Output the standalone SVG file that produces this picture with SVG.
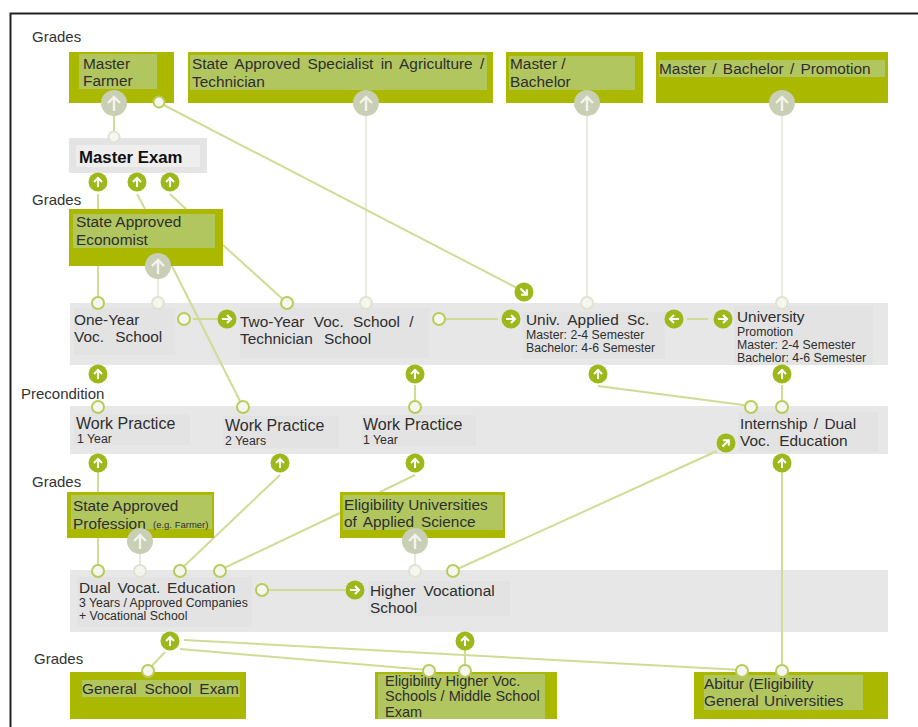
<svg xmlns="http://www.w3.org/2000/svg" width="918" height="727" viewBox="0 0 918 727">
<style>
text{font-family:"Liberation Sans",Arial,sans-serif;fill:#2e2e2e;font-size:15.4px}
.s{font-size:12.3px}
.lab{font-size:15px;fill:#333}
.g{fill:#aab800}
.li{fill:#b2c65f}
.row{fill:#e7e7e7}
.in{fill:#e3e3e3}
.c line{stroke:#cfdc96;stroke-width:2;fill:none}
.c line.p{stroke:#e8ebdc}
.o{fill:#f6f6f0;stroke:#b9cc5a;stroke-width:2}
.og{fill:#f6f6f0;stroke:#dfe3d0;stroke-width:2}
</style>
<defs>
<g id="a"><circle r="9.5" fill="#9db81a"/><path d="M0,5V-4M-4,0L0,-4L4,0" fill="none" stroke="#fff" stroke-width="2"/></g>
<g id="b"><circle r="13" fill="#c9cfb4"/><path d="M0,8V-6M-6,0L0,-6L6,0" fill="none" stroke="#f4f4ee" stroke-width="2.4"/></g>
</defs>
<rect width="918" height="727" fill="#fff"/>
<path d="M10.5,727V13.5H918" fill="none" stroke="#222" stroke-width="2"/>
<g id="bands">
<rect class="row" x="70" y="303" width="818" height="62"/>
<rect class="row" x="70" y="406" width="818" height="48"/>
<rect class="row" x="70" y="570" width="818" height="62"/>
<rect class="in" x="74" y="308" width="101" height="47"/>
<rect class="in" x="240" y="308" width="189" height="50"/>
<rect class="in" x="523" y="312" width="142" height="47"/>
<rect class="in" x="734" y="306" width="139" height="59"/>
<rect class="in" x="74" y="414" width="116" height="31"/>
<rect class="in" x="223" y="416" width="116" height="32"/>
<rect class="in" x="362" y="415" width="114" height="31"/>
<rect class="in" x="738" y="412" width="140" height="40"/>
<rect class="in" x="77" y="577" width="175" height="50"/>
<rect class="in" x="368" y="581" width="142" height="35"/>
</g>
<g id="connectors" class="c">
<line x1="114" y1="115" x2="114" y2="137"/>
<line x1="366" y1="115" x2="366" y2="303" class="p"/>
<line x1="587" y1="115" x2="587" y2="303" class="p"/>
<line x1="782" y1="115" x2="782" y2="303" class="p"/>
<line x1="158" y1="102" x2="517" y2="288"/>
<line x1="98" y1="194" x2="98" y2="303"/>
<line x1="137" y1="194" x2="145" y2="209"/>
<line x1="170" y1="194" x2="186" y2="209"/>
<line x1="158" y1="278" x2="158" y2="303" class="p"/>
<line x1="172" y1="266" x2="243" y2="407"/>
<line x1="223" y1="245" x2="287" y2="303"/>
<line x1="193" y1="319" x2="220" y2="319"/>
<line x1="445" y1="319" x2="498" y2="319"/>
<line x1="687" y1="319" x2="708" y2="319"/>
<line x1="415" y1="385" x2="415" y2="407"/>
<line x1="598" y1="386" x2="751" y2="406"/>
<line x1="782" y1="385" x2="782" y2="407"/>
<line x1="98" y1="470" x2="98" y2="570"/>
<line x1="280" y1="475" x2="180" y2="570"/>
<line x1="415" y1="475" x2="380" y2="492"/>
<line x1="340" y1="513" x2="220" y2="570"/>
<line x1="717" y1="451" x2="453" y2="571"/>
<line x1="782" y1="470" x2="782" y2="672"/>
<line x1="140" y1="553" x2="140" y2="570" class="p"/>
<line x1="415" y1="553" x2="415" y2="570" class="p"/>
<line x1="268" y1="590" x2="345" y2="590"/>
<line x1="184" y1="640" x2="742" y2="670"/>
<line x1="180" y1="649" x2="428" y2="670"/>
<line x1="165" y1="652" x2="148" y2="670"/>
<line x1="465" y1="650" x2="465" y2="672"/>
</g>
<g id="master-farmer"><rect class="g" x="69" y="52" width="105" height="51"/><rect class="li" x="79" y="54" width="78" height="35"/><text x="83" y="69">Master</text><text x="83" y="86">Farmer</text></g>
<g id="specialist"><rect class="g" x="188" y="52" width="305" height="51"/><rect class="li" x="190" y="55" width="297" height="35"/><text x="192" y="69" style="word-spacing:3px">State Approved Specialist in Agriculture /</text><text x="192" y="87">Technician</text></g>
<g id="master-bachelor"><rect class="g" x="506" y="52" width="137" height="51"/><rect class="li" x="509" y="56" width="126" height="34"/><text x="510" y="69">Master /</text><text x="510" y="87">Bachelor</text></g>
<g id="master-bachelor-promotion"><rect class="g" x="656" y="52" width="232" height="51"/><rect class="li" x="659" y="60" width="226" height="17"/><text x="659" y="74" style="word-spacing:2px">Master / Bachelor / Promotion</text></g>
<g id="master-exam"><rect x="69" y="138" width="138" height="35" fill="#e4e4e4"/><rect x="76" y="145" width="124" height="22" fill="#eee"/><text x="79" y="163" style="font-weight:bold;fill:#111;font-size:16.8px">Master Exam</text></g>
<g id="economist"><rect class="g" x="69" y="209" width="154" height="57"/><rect class="li" x="73" y="214" width="142" height="34"/><text x="76" y="227">State Approved</text><text x="76" y="245">Economist</text></g>
<g id="one-year"><text x="74" y="325">One-Year</text><text x="74" y="342" style="word-spacing:7px">Voc. School</text></g>
<g id="two-year"><text x="240" y="327" style="word-spacing:5px">Two-Year Voc. School /</text><text x="240" y="344" style="word-spacing:7px">Technician School</text></g>
<g id="univ-applied"><text x="526" y="325" style="word-spacing:4px">Univ. Applied Sc.</text><text class="s" x="526" y="339">Master: 2-4 Semester</text><text class="s" x="526" y="352">Bachelor: 4-6 Semester</text></g>
<g id="university"><text x="737" y="322">University</text><text class="s" x="737" y="336">Promotion</text><text class="s" x="737" y="349">Master: 2-4 Semester</text><text class="s" x="737" y="362">Bachelor: 4-6 Semester</text></g>
<g id="work-1"><text x="76" y="429" style="font-size:16px">Work Practice</text><text class="s" x="77" y="443">1 Year</text></g>
<g id="work-2"><text x="225" y="431" style="font-size:16px">Work Practice</text><text class="s" x="225" y="445">2 Years</text></g>
<g id="work-3"><text x="363" y="430" style="font-size:16px">Work Practice</text><text class="s" x="363" y="444">1 Year</text></g>
<g id="internship"><text x="740" y="429" style="word-spacing:2px">Internship / Dual</text><text x="740" y="446" style="word-spacing:5px">Voc. Education</text></g>
<g id="profession"><rect class="g" x="67" y="492" width="147" height="46"/><rect class="li" x="71" y="495" width="141" height="34"/><text x="73" y="511">State Approved</text><text x="73" y="529">Profession</text><text x="153" y="528" style="font-size:9.5px">(e.g. Farmer)</text></g>
<g id="eligibility-uas"><rect class="g" x="340" y="492" width="165" height="46"/><rect class="li" x="343" y="495" width="160" height="35"/><text x="344" y="510">Eligibility Universities</text><text x="344" y="527" style="word-spacing:2.5px">of Applied Science</text></g>
<g id="dual"><text x="79" y="593" style="word-spacing:2.5px">Dual Vocat. Education</text><text class="s" x="79" y="607">3 Years / Approved Companies</text><text class="s" x="79" y="620">+ Vocational School</text></g>
<g id="higher"><text x="370" y="596" style="word-spacing:4px">Higher Vocational</text><text x="370" y="613">School</text></g>
<g id="general"><rect class="g" x="70" y="672" width="176" height="47"/><rect class="li" x="82" y="680" width="158" height="17"/><text x="82" y="694" style="word-spacing:3.5px">General School Exam</text></g>
<g id="eligibility-higher"><rect class="g" x="375" y="672" width="182" height="47"/><rect class="li" x="378" y="674" width="167" height="45"/><text x="385" y="686" style="font-size:14.5px">Eligibility Higher Voc.</text><text x="385" y="701" style="font-size:14.5px">Schools / Middle School</text><text x="385" y="717" style="font-size:14.5px">Exam</text></g>
<g id="abitur"><rect class="g" x="694" y="672" width="194" height="47"/><rect class="li" x="704" y="675" width="159" height="35"/><text x="704" y="689">Abitur (Eligibility</text><text x="704" y="706" style="word-spacing:1px">General Universities</text></g>
<g id="labels">
<text class="lab" x="32" y="42">Grades</text>
<text class="lab" x="32" y="205">Grades</text>
<text class="lab" x="21" y="399">Precondition</text>
<text class="lab" x="32" y="487">Grades</text>
<text class="lab" x="34" y="664">Grades</text>
</g>
<g id="ports">
<use href="#b" x="114" y="103"/><use href="#b" x="366" y="103"/><use href="#b" x="587" y="103"/><use href="#b" x="782" y="103"/><use href="#b" x="158" y="266"/><use href="#b" x="140" y="541"/><use href="#b" x="415" y="541"/>
<circle class="o" cx="159" cy="102" r="5.5"/>
<circle class="og" cx="114" cy="137" r="5.5"/>
<circle class="o" cx="98" cy="303" r="6"/><circle class="og" cx="158" cy="303" r="6"/><circle class="o" cx="287" cy="303" r="6"/><circle class="og" cx="366" cy="303" r="6"/><circle class="og" cx="587" cy="303" r="6"/><circle class="og" cx="782" cy="303" r="6"/>
<circle class="o" cx="184" cy="319" r="6"/><circle class="o" cx="439" cy="319" r="6"/>
<circle class="o" cx="98" cy="407" r="6"/><circle class="o" cx="243" cy="407" r="6"/><circle class="o" cx="415" cy="407" r="6"/><circle class="o" cx="751" cy="407" r="6"/><circle class="o" cx="782" cy="407" r="6"/>
<circle class="o" cx="98" cy="571" r="6"/><circle class="og" cx="140" cy="571" r="6"/><circle class="o" cx="180" cy="571" r="6"/><circle class="o" cx="220" cy="571" r="6"/><circle class="og" cx="415" cy="571" r="6"/><circle class="o" cx="453" cy="571" r="6"/>
<circle class="o" cx="262" cy="590" r="6"/>
<circle class="o" cx="148" cy="671" r="6"/><circle class="o" cx="429" cy="671" r="6"/><circle class="o" cx="465" cy="671" r="6"/><circle class="o" cx="742" cy="671" r="6"/><circle class="o" cx="782" cy="671" r="6"/>
<use href="#a" x="98" y="182"/><use href="#a" x="137" y="182"/><use href="#a" x="170" y="182"/>
<use href="#a" x="98" y="374"/><use href="#a" x="415" y="374"/><use href="#a" x="598" y="374"/><use href="#a" x="782" y="374"/>
<use href="#a" x="98" y="463"/><use href="#a" x="280" y="463"/><use href="#a" x="415" y="463"/><use href="#a" x="782" y="463"/>
<use href="#a" x="170" y="641"/><use href="#a" x="465" y="641"/>
<use href="#a" transform="translate(524,292) rotate(135)"/>
<use href="#a" transform="translate(227,319) rotate(90)"/>
<use href="#a" transform="translate(511,319) rotate(90)"/>
<use href="#a" transform="translate(674,319) rotate(-90)"/>
<use href="#a" transform="translate(723,319) rotate(90)"/>
<use href="#a" transform="translate(726,443) rotate(45)"/>
<use href="#a" transform="translate(355,590) rotate(90)"/>
</g>
</svg>
